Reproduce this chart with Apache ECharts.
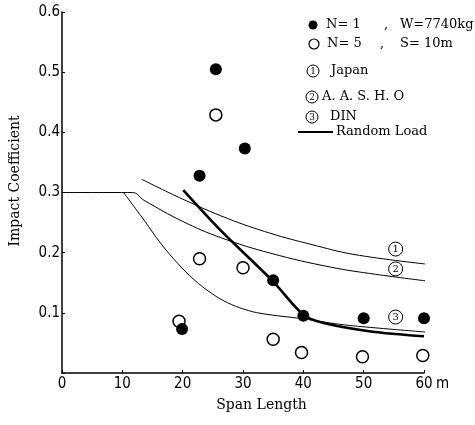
<!DOCTYPE html>
<html>
<head>
<meta charset="utf-8">
<script src="https://cdn.jsdelivr.net/npm/echarts@6/dist/echarts.min.js"></script>
<style>
  html, body { margin: 0; padding: 0; background: #ffffff; }
  #chart { width: 475px; height: 425px; }
</style>
</head>
<body>
<div id="chart"></div>
<script>
// Axis ticks
const spanTicks = [0, 10, 20, 30, 40, 50, 60];
const coefTicks = [0.1, 0.2, 0.3, 0.4, 0.5, 0.6];

// Measured impact coefficients: [span length (m), coefficient]
const singleTruck = [[19.9, 0.073], [22.8, 0.328], [25.5, 0.505], [30.3, 0.373], [35, 0.154], [40, 0.095], [50, 0.091], [60, 0.091]];
const fiveTrucks  = [[19.4, 0.086], [22.8, 0.190], [25.5, 0.429], [30, 0.175], [35, 0.056], [39.7, 0.034], [49.8, 0.027], [59.8, 0.029]];

// Code curves
const japanCurve = [[13.2, 0.322], [20, 0.289], [27.4, 0.257], [34.6, 0.232], [41.2, 0.214], [48.4, 0.197], [60.4, 0.181]];
const aashoCurve = [[0, 0.300], [11.7, 0.300], [13.6, 0.287], [20, 0.252], [26.3, 0.225], [34.6, 0.199], [44.5, 0.176], [52, 0.164], [60.4, 0.153]];
const dinCurve   = [[10.2, 0.300], [13.6, 0.254], [16.4, 0.215], [19.2, 0.182], [21.9, 0.155], [24.7, 0.133], [27.4, 0.117], [30.2, 0.106], [33, 0.099], [40, 0.090], [46, 0.081], [52, 0.075], [60.4, 0.068]];

// Random load result
const randomLoadCurve = [[20.1, 0.304], [26.3, 0.237], [35, 0.152], [40, 0.097], [43.4, 0.083], [51.2, 0.069], [60, 0.061]];

const serif = "'DejaVu Serif', 'Liberation Serif', serif";
const narrow = "'Liberation Sans Narrow', 'DejaVu Sans Condensed', 'Liberation Sans', sans-serif";

const chart = echarts.init(document.getElementById('chart'), null, { renderer: 'canvas' });

function circledTag(coord, digit) {
  return {
    symbol: 'circle',
    symbolSize: 14,
    silent: true,
    itemStyle: { color: '#fff', borderColor: '#000', borderWidth: 1 },
    label: { show: true, position: 'inside', formatter: digit, color: '#000', fontSize: 10, fontFamily: serif },
    data: [{ coord: coord }]
  };
}

const thinLine = { color: '#000', width: 1 };
const legendFont = { fontSize: 13, fontFamily: serif, fill: '#000' };

function legendText(x, y, text) {
  return { type: 'text', x: x, y: y, style: Object.assign({ text: text, verticalAlign: 'middle', align: 'left' }, legendFont) };
}
function legendCircled(x, y, digit) {
  return [
    { type: 'circle', shape: { cx: x, cy: y, r: 6 }, style: { fill: '#fff', stroke: '#000', lineWidth: 1 } },
    { type: 'text', x: x, y: y + 0.5, style: { text: digit, align: 'center', verticalAlign: 'middle', fontSize: 9, fontFamily: serif, fill: '#000' } }
  ];
}

const curveDefaults = { type: 'line', smooth: 0.4, showSymbol: false, z: 2 };

const option = {
  backgroundColor: '#ffffff',
  animation: false,
  grid: { left: 61, right: 51, top: 12, bottom: 52, containLabel: false },
  xAxis: {
    type: 'value',
    min: spanTicks[0],
    max: spanTicks[spanTicks.length - 1],
    interval: spanTicks[1] - spanTicks[0],
    name: 'Span Length',
    nameLocation: 'middle',
    nameGap: 25,
    nameTextStyle: { color: '#000', fontSize: 14, fontFamily: serif, padding: [0, 0, 0, 37] },
    axisLine: { lineStyle: { color: '#000', width: 1.5 } },
    axisTick: { inside: true, length: 3, lineStyle: { color: '#000', width: 1 } },
    axisLabel: { color: '#000', fontSize: 15, fontFamily: narrow, margin: 4 },
    splitLine: { show: false }
  },
  yAxis: {
    type: 'value',
    min: 0,
    max: coefTicks[coefTicks.length - 1],
    interval: coefTicks[1] - coefTicks[0],
    name: 'Impact Coefficient',
    nameLocation: 'middle',
    nameRotate: 90,
    nameGap: 40,
    nameTextStyle: { color: '#000', fontSize: 14, fontFamily: serif, padding: [0, 0, 0, 23] },
    axisLine: { lineStyle: { color: '#000', width: 1.5 } },
    axisTick: { inside: true, length: 3, lineStyle: { color: '#000', width: 1 } },
    axisLabel: {
      color: '#000', fontSize: 15, fontFamily: narrow, margin: 2,
      formatter: v => (v === 0 ? '' : v.toFixed(1))
    },
    splitLine: { show: false }
  },
  series: [
    Object.assign({}, curveDefaults, {
      name: 'Japan', data: japanCurve, lineStyle: thinLine, markPoint: circledTag([55.3, 0.206], '1')
    }),
    Object.assign({}, curveDefaults, {
      name: 'A.A.S.H.O', data: aashoCurve, lineStyle: thinLine, markPoint: circledTag([55.3, 0.173], '2')
    }),
    Object.assign({}, curveDefaults, {
      name: 'DIN', data: dinCurve, lineStyle: thinLine, markPoint: circledTag([55.3, 0.093], '3')
    }),
    Object.assign({}, curveDefaults, {
      name: 'Random Load', data: randomLoadCurve, smooth: 0.3, lineStyle: { color: '#000', width: 2.6 }, z: 3
    }),
    {
      name: 'N=5, S=10m', type: 'scatter', data: fiveTrucks, symbol: 'circle', symbolSize: 12,
      itemStyle: { color: '#fff', borderColor: '#000', borderWidth: 1.5, opacity: 1 }, z: 4
    },
    {
      name: 'N=1, W=7740kg', type: 'scatter', data: singleTruck, symbol: 'circle', symbolSize: 12,
      itemStyle: { color: '#000', opacity: 1 }, z: 5
    }
  ],
  graphic: [
    // unit after the last span tick
    { type: 'text', x: 436, y: 384, style: { text: 'm', fontSize: 15, fontFamily: narrow, fill: '#000', verticalAlign: 'middle' } },
    // key
    { type: 'circle', shape: { cx: 313, cy: 25, r: 4.5 }, style: { fill: '#000' } },
    legendText(326, 25, 'N= 1'),
    legendText(384, 25, ','),
    legendText(400, 25, 'W=7740kg'),
    { type: 'circle', shape: { cx: 314, cy: 44, r: 5 }, style: { fill: '#fff', stroke: '#000', lineWidth: 1.2 } },
    legendText(327, 44, 'N= 5'),
    legendText(380, 44, ','),
    legendText(400, 44, 'S= 10m'),
    ...legendCircled(313, 71, '1'),
    legendText(331, 71, 'Japan'),
    ...legendCircled(312, 97, '2'),
    legendText(322, 97, 'A. A. S. H. O'),
    ...legendCircled(312, 117, '3'),
    legendText(330, 117, 'DIN'),
    { type: 'line', shape: { x1: 298, y1: 132, x2: 333, y2: 132 }, style: { stroke: '#000', lineWidth: 2 } },
    legendText(336, 132, 'Random Load')
  ]
};

chart.setOption(option);
</script>
</body>
</html>
